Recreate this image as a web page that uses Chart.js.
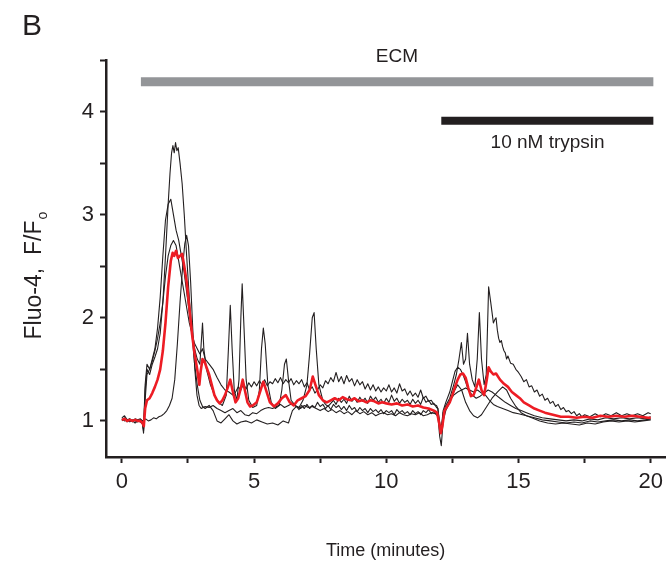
<!DOCTYPE html>
<html><head><meta charset="utf-8">
<script src="https://cdn.jsdelivr.net/npm/chart.js@4"></script>
<style>html,body{margin:0;padding:0;background:#fff}#wrap{width:669px;height:562px;position:relative}</style>
</head><body><div id="wrap"><canvas id="c" width="669" height="562"></canvas></div>
<script>
// ---- data (time in minutes, Fluo-4 F/Fo) ----
const xTicks = [0, 2.5, 5, 7.5, 10, 12.5, 15, 17.5, 20];
const xTickLabels = ["0", "", "5", "", "10", "", "15", "", "20"];
const yTicks = [1, 1.5, 2, 2.5, 3, 3.5, 4, 4.5];
const yTickLabels = ["1", "", "2", "", "3", "", "4", ""];
const ecmBar = [[0.72, 4.29], [20.1, 4.29]];
const trypsinBar = [[12.08, 3.91], [20.1, 3.91]];

const cell1 = [[0,1.03],[0.1,1.05],[0.2,1.01],[0.3,1.02],[0.4,1.0],[0.5,1.02],[0.6,1.01],[0.7,1.02],[0.78,1.0],[0.82,0.9],[0.88,1.3],[0.95,1.5],[1.05,1.45],[1.15,1.55],[1.25,1.62],[1.35,1.7],[1.45,1.85],[1.55,2.15],[1.65,2.6],[1.75,3.1],[1.82,3.4],[1.88,3.6],[1.93,3.67],[1.98,3.6],[2.03,3.7],[2.08,3.62],[2.13,3.65],[2.2,3.5],[2.28,3.3],[2.36,3.0],[2.45,2.6],[2.55,2.2],[2.65,1.85],[2.75,1.55],[2.85,1.35],[2.95,1.2],[3.05,1.14],[3.15,1.12],[3.3,1.15],[3.45,1.1],[3.6,1.0],[3.75,0.98],[3.9,1.02],[4.05,1.06],[4.2,1.0],[4.35,0.97],[4.5,0.99],[4.7,1.0],[4.9,0.98],[5.1,1.01],[5.3,0.99],[5.5,0.97],[5.7,0.98],[5.9,0.96],[6.1,1.0],[6.3,0.98],[6.45,1.1],[6.6,1.14],[6.7,1.11],[6.8,1.15],[6.9,1.12],[7.0,1.16],[7.1,1.12],[7.2,1.15],[7.3,1.13],[7.4,1.18],[7.5,1.14],[7.6,1.16],[7.7,1.12],[7.8,1.15],[7.9,1.11],[8.0,1.16],[8.1,1.13],[8.2,1.15],[8.3,1.11],[8.4,1.14],[8.5,1.1],[8.6,1.15],[8.7,1.11],[8.8,1.13],[8.9,1.09],[9.0,1.13],[9.1,1.1],[9.2,1.12],[9.3,1.08],[9.4,1.12],[9.5,1.09],[9.6,1.11],[9.7,1.08],[9.8,1.11],[9.9,1.07],[10.0,1.1],[10.1,1.08],[10.2,1.1],[10.3,1.06],[10.4,1.11],[10.5,1.08],[10.6,1.1],[10.7,1.07],[10.8,1.09],[10.9,1.06],[11.0,1.1],[11.1,1.07],[11.2,1.09],[11.3,1.06],[11.4,1.1],[11.5,1.08],[11.6,1.11],[11.7,1.07],[11.8,1.09],[11.9,1.06],[11.95,1.05],[12.02,0.85],[12.08,0.76],[12.15,1.0],[12.25,1.1],[12.4,1.18],[12.55,1.28],[12.7,1.35],[12.85,1.3],[13.0,1.18],[13.15,1.1],[13.3,1.05],[13.45,1.03],[13.6,1.06],[13.8,1.14],[14.0,1.22],[14.2,1.28],[14.4,1.33],[14.55,1.3],[14.7,1.22],[14.9,1.14],[15.1,1.08],[15.3,1.05],[15.5,1.03],[15.8,1.0],[16.1,0.98],[16.4,0.97],[16.7,0.98],[17.0,0.97],[17.3,0.96],[17.6,0.98],[17.9,0.97],[18.2,0.99],[18.5,1.0],[18.8,0.99],[19.1,1.0],[19.4,0.99],[19.7,1.0],[20.0,1.01]];

const cell2 = [[0,1.01],[0.1,1.03],[0.2,1.0],[0.3,1.02],[0.4,0.99],[0.5,1.01],[0.6,1.0],[0.7,1.01],[0.78,0.98],[0.82,0.92],[0.88,1.35],[0.95,1.55],[1.05,1.5],[1.15,1.6],[1.25,1.7],[1.35,1.9],[1.45,2.2],[1.55,2.6],[1.65,2.95],[1.75,3.1],[1.85,3.15],[1.95,3.0],[2.05,2.85],[2.15,2.75],[2.25,2.6],[2.35,2.45],[2.45,2.25],[2.55,2.05],[2.65,1.85],[2.75,1.7],[2.85,1.6],[2.95,1.55],[3.0,1.75],[3.05,1.95],[3.1,1.7],[3.2,1.5],[3.35,1.35],[3.5,1.25],[3.65,1.18],[3.8,1.15],[3.95,1.25],[4.03,1.7],[4.1,2.12],[4.17,1.7],[4.25,1.3],[4.35,1.2],[4.43,1.4],[4.5,2.0],[4.55,2.33],[4.62,1.9],[4.7,1.4],[4.8,1.2],[4.95,1.13],[5.1,1.15],[5.2,1.3],[5.28,1.7],[5.35,1.9],[5.42,1.75],[5.52,1.35],[5.65,1.18],[5.8,1.12],[5.95,1.15],[6.05,1.3],[6.15,1.55],[6.22,1.6],[6.3,1.4],[6.4,1.2],[6.55,1.15],[6.7,1.13],[6.85,1.2],[7.0,1.35],[7.1,1.65],[7.2,2.0],[7.27,2.05],[7.35,1.7],[7.45,1.35],[7.6,1.2],[7.7,1.16],[7.8,1.14],[7.9,1.17],[8.0,1.2],[8.1,1.16],[8.2,1.22],[8.3,1.18],[8.4,1.21],[8.5,1.17],[8.6,1.24],[8.7,1.19],[8.8,1.22],[8.9,1.18],[9.0,1.23],[9.1,1.19],[9.2,1.22],[9.3,1.17],[9.4,1.24],[9.5,1.2],[9.6,1.23],[9.7,1.18],[9.8,1.21],[9.9,1.17],[10.0,1.22],[10.1,1.18],[10.2,1.25],[10.3,1.19],[10.4,1.22],[10.5,1.17],[10.6,1.21],[10.7,1.18],[10.8,1.2],[10.9,1.16],[11.0,1.21],[11.1,1.17],[11.2,1.2],[11.3,1.16],[11.4,1.23],[11.5,1.18],[11.6,1.2],[11.7,1.16],[11.8,1.17],[11.9,1.13],[11.95,1.12],[12.02,0.95],[12.08,0.9],[12.15,1.08],[12.25,1.15],[12.4,1.22],[12.55,1.35],[12.65,1.45],[12.75,1.6],[12.84,1.76],[12.92,1.55],[13.0,1.6],[13.07,1.85],[13.15,1.55],[13.25,1.4],[13.35,1.33],[13.44,1.6],[13.52,2.05],[13.6,1.6],[13.7,1.35],[13.78,1.45],[13.87,2.3],[13.95,2.15],[14.0,2.05],[14.05,1.95],[14.1,1.98],[14.15,2.0],[14.2,1.88],[14.25,1.8],[14.3,1.76],[14.35,1.78],[14.4,1.72],[14.45,1.68],[14.5,1.66],[14.55,1.6],[14.6,1.63],[14.7,1.56],[14.8,1.55],[14.9,1.5],[15.0,1.47],[15.1,1.43],[15.2,1.38],[15.3,1.4],[15.4,1.33],[15.5,1.34],[15.6,1.28],[15.7,1.3],[15.8,1.24],[15.9,1.26],[16.0,1.2],[16.1,1.22],[16.2,1.17],[16.3,1.19],[16.4,1.14],[16.5,1.16],[16.6,1.11],[16.7,1.13],[16.8,1.09],[16.9,1.1],[17.0,1.07],[17.1,1.09],[17.2,1.05],[17.3,1.07],[17.4,1.04],[17.5,1.06],[17.7,1.04],[17.9,1.07],[18.1,1.04],[18.3,1.07],[18.5,1.05],[18.7,1.08],[18.9,1.05],[19.1,1.07],[19.3,1.05],[19.5,1.07],[19.7,1.05],[19.9,1.08],[20.0,1.07]];

const cell3 = [[0,1.0],[0.1,1.02],[0.2,0.99],[0.3,1.01],[0.4,1.0],[0.5,0.98],[0.6,1.0],[0.7,0.99],[0.78,0.97],[0.82,0.88],[0.88,1.2],[0.95,1.45],[1.05,1.5],[1.15,1.58],[1.25,1.68],[1.35,1.8],[1.45,1.95],[1.55,2.15],[1.65,2.4],[1.75,2.6],[1.85,2.7],[1.95,2.75],[2.05,2.7],[2.15,2.55],[2.25,2.4],[2.35,2.25],[2.45,2.1],[2.55,1.95],[2.65,1.85],[2.75,1.75],[2.85,1.7],[2.95,1.65],[3.05,1.7],[3.15,1.6],[3.3,1.55],[3.45,1.5],[3.6,1.42],[3.75,1.35],[3.9,1.3],[4.05,1.28],[4.2,1.25],[4.3,1.28],[4.4,1.33],[4.5,1.3],[4.6,1.36],[4.7,1.31],[4.8,1.37],[4.9,1.33],[5.0,1.38],[5.1,1.34],[5.2,1.39],[5.3,1.35],[5.4,1.4],[5.5,1.34],[5.6,1.38],[5.7,1.36],[5.8,1.41],[5.9,1.37],[6.0,1.42],[6.1,1.36],[6.2,1.4],[6.3,1.37],[6.4,1.41],[6.5,1.35],[6.6,1.39],[6.7,1.36],[6.8,1.4],[6.9,1.33],[7.0,1.37],[7.1,1.3],[7.2,1.33],[7.3,1.27],[7.4,1.3],[7.5,1.35],[7.6,1.32],[7.7,1.39],[7.8,1.36],[7.9,1.42],[8.0,1.38],[8.1,1.47],[8.2,1.38],[8.3,1.43],[8.4,1.36],[8.5,1.44],[8.6,1.38],[8.7,1.41],[8.8,1.34],[8.9,1.4],[9.0,1.35],[9.1,1.38],[9.2,1.31],[9.3,1.36],[9.4,1.3],[9.5,1.35],[9.6,1.29],[9.7,1.33],[9.8,1.28],[9.9,1.32],[10.0,1.29],[10.1,1.35],[10.2,1.28],[10.3,1.32],[10.4,1.27],[10.5,1.36],[10.6,1.29],[10.7,1.31],[10.8,1.25],[10.9,1.29],[11.0,1.24],[11.1,1.27],[11.2,1.23],[11.3,1.3],[11.4,1.22],[11.5,1.24],[11.6,1.19],[11.7,1.2],[11.8,1.16],[11.9,1.15],[11.95,1.12],[12.02,0.98],[12.08,0.92],[12.15,1.1],[12.25,1.18],[12.4,1.28],[12.5,1.38],[12.6,1.48],[12.7,1.52],[12.8,1.5],[12.9,1.45],[13.0,1.38],[13.1,1.3],[13.25,1.25],[13.4,1.22],[13.55,1.24],[13.7,1.27],[13.85,1.3],[14.0,1.28],[14.15,1.25],[14.3,1.22],[14.5,1.18],[14.7,1.15],[14.9,1.12],[15.1,1.1],[15.3,1.08],[15.6,1.05],[15.9,1.03],[16.2,1.02],[16.5,1.01],[16.8,1.0],[17.1,1.01],[17.4,1.0],[17.7,1.02],[18.0,1.01],[18.3,1.03],[18.6,1.02],[18.9,1.03],[19.2,1.02],[19.5,1.03],[19.8,1.02],[20.0,1.04]];

const cell4 = [[0,1.02],[0.1,1.0],[0.2,1.01],[0.3,0.99],[0.4,1.01],[0.5,1.0],[0.6,0.99],[0.7,1.01],[0.8,1.0],[0.9,1.02],[1.0,1.0],[1.1,1.01],[1.2,1.03],[1.3,1.02],[1.4,1.04],[1.5,1.05],[1.6,1.07],[1.7,1.1],[1.8,1.15],[1.9,1.22],[2.0,1.4],[2.1,1.75],[2.2,2.15],[2.3,2.5],[2.38,2.72],[2.45,2.8],[2.52,2.7],[2.6,2.35],[2.68,1.9],[2.76,1.5],[2.84,1.25],[2.92,1.15],[3.0,1.12],[3.15,1.14],[3.3,1.13],[3.45,1.15],[3.6,1.12],[3.75,1.1],[3.9,1.08],[4.05,1.1],[4.2,1.12],[4.35,1.08],[4.5,1.1],[4.65,1.06],[4.8,1.05],[4.95,1.08],[5.1,1.07],[5.25,1.1],[5.4,1.12],[5.55,1.13],[5.7,1.12],[5.85,1.14],[6.0,1.16],[6.15,1.13],[6.3,1.15],[6.45,1.17],[6.6,1.14],[6.75,1.12],[6.9,1.15],[7.05,1.13],[7.2,1.14],[7.35,1.12],[7.5,1.1],[7.65,1.12],[7.8,1.09],[7.95,1.11],[8.1,1.08],[8.25,1.1],[8.4,1.07],[8.55,1.09],[8.7,1.06],[8.85,1.1],[9.0,1.07],[9.15,1.09],[9.3,1.06],[9.45,1.08],[9.6,1.05],[9.75,1.07],[9.9,1.08],[10.05,1.06],[10.2,1.07],[10.35,1.05],[10.5,1.08],[10.65,1.06],[10.8,1.05],[10.95,1.07],[11.1,1.06],[11.25,1.08],[11.4,1.05],[11.55,1.06],[11.7,1.08],[11.85,1.07],[11.95,1.05],[12.02,0.95],[12.08,0.9],[12.15,1.05],[12.25,1.12],[12.4,1.2],[12.55,1.25],[12.7,1.28],[12.85,1.3],[13.0,1.32],[13.15,1.3],[13.3,1.28],[13.45,1.3],[13.6,1.27],[13.75,1.25],[13.9,1.2],[14.05,1.16],[14.2,1.14],[14.4,1.12],[14.6,1.1],[14.8,1.08],[15.0,1.07],[15.3,1.05],[15.6,1.03],[15.9,1.01],[16.2,1.0],[16.5,0.99],[16.8,0.98],[17.1,0.99],[17.4,0.98],[17.7,1.0],[18.0,0.99],[18.3,1.0],[18.6,1.01],[18.9,1.0],[19.2,1.01],[19.5,1.0],[19.8,1.01],[20.0,1.02]];

const meanTrace = [[0,1.01],[0.1,1.02],[0.2,1.0],[0.3,1.01],[0.4,1.0],[0.5,1.01],[0.6,1.0],[0.7,1.0],[0.78,0.98],[0.83,0.95],[0.88,1.12],[0.95,1.2],[1.05,1.22],[1.15,1.27],[1.25,1.33],[1.35,1.4],[1.45,1.5],[1.55,1.68],[1.65,1.95],[1.75,2.3],[1.85,2.55],[1.92,2.63],[1.98,2.6],[2.05,2.65],[2.12,2.58],[2.2,2.6],[2.28,2.62],[2.36,2.5],[2.45,2.35],[2.55,2.1],[2.65,1.85],[2.75,1.65],[2.85,1.5],[2.93,1.35],[2.98,1.48],[3.05,1.6],[3.12,1.58],[3.2,1.52],[3.3,1.45],[3.4,1.35],[3.5,1.25],[3.6,1.2],[3.7,1.17],[3.8,1.2],[3.9,1.25],[4.0,1.32],[4.1,1.4],[4.2,1.28],[4.3,1.18],[4.4,1.22],[4.5,1.32],[4.57,1.4],[4.65,1.3],[4.75,1.18],[4.85,1.14],[4.95,1.15],[5.1,1.18],[5.25,1.3],[5.35,1.38],[5.45,1.3],[5.6,1.18],[5.75,1.14],[5.9,1.17],[6.05,1.22],[6.2,1.25],[6.35,1.18],[6.5,1.15],[6.65,1.2],[6.8,1.22],[6.95,1.24],[7.1,1.3],[7.22,1.43],[7.32,1.35],[7.45,1.25],[7.6,1.2],[7.75,1.18],[7.9,1.2],[8.05,1.22],[8.2,1.2],[8.35,1.23],[8.5,1.21],[8.65,1.2],[8.8,1.22],[8.95,1.19],[9.1,1.2],[9.25,1.18],[9.4,1.2],[9.55,1.19],[9.7,1.17],[9.85,1.18],[10.0,1.17],[10.2,1.16],[10.4,1.17],[10.6,1.15],[10.8,1.16],[11.0,1.14],[11.2,1.15],[11.4,1.13],[11.6,1.12],[11.8,1.1],[11.92,1.08],[12.0,0.98],[12.06,0.88],[12.12,0.95],[12.2,1.1],[12.3,1.14],[12.4,1.18],[12.5,1.25],[12.6,1.33],[12.7,1.4],[12.8,1.45],[12.9,1.46],[13.0,1.42],[13.1,1.32],[13.2,1.24],[13.3,1.25],[13.4,1.32],[13.5,1.4],[13.6,1.3],[13.7,1.25],[13.8,1.4],[13.87,1.52],[13.95,1.48],[14.05,1.45],[14.15,1.46],[14.3,1.4],[14.45,1.36],[14.6,1.33],[14.75,1.28],[14.9,1.25],[15.05,1.22],[15.2,1.18],[15.4,1.15],[15.6,1.12],[15.8,1.1],[16.0,1.08],[16.3,1.06],[16.6,1.04],[16.9,1.04],[17.2,1.03],[17.5,1.04],[17.8,1.03],[18.1,1.05],[18.4,1.04],[18.7,1.05],[19.0,1.04],[19.3,1.05],[19.6,1.04],[19.9,1.03],[20.0,1.03]];

// ---- chart ----
const INK = '#231f20';
const FONT = '"Liberation Sans", Arial, sans-serif';
const toXY = arr => arr.map(([x, y]) => ({x, y}));
const traceStyle = (data, color, width, order) => ({
  data: toXY(data), borderColor: color, borderWidth: width, pointRadius: 0,
  tension: 0, fill: false, order, borderCapStyle: 'butt', borderJoinStyle: 'round'
});

const annotations = {
  id: 'annotations',
  afterDraw(chart) {
    const ctx = chart.ctx, xs = chart.scales.x;
    ctx.save();
    ctx.fillStyle = INK;
    ctx.textBaseline = 'alphabetic';
    ctx.textAlign = 'left';
    ctx.font = '30px ' + FONT;
    ctx.fillText('B', 22, 35);
    ctx.textAlign = 'center';
    ctx.font = '19px ' + FONT;
    ctx.fillText('ECM', xs.getPixelForValue(10.4), 62);
    ctx.fillText('10 nM trypsin', xs.getPixelForValue(16.1), 148);
    // y-axis title with subscript
    ctx.translate(41, 280);
    ctx.rotate(-Math.PI / 2);
    ctx.font = '23px ' + FONT;
    const main = 'Fluo-4,  F/F';
    const w = ctx.measureText(main).width;
    ctx.textAlign = 'left';
    ctx.fillText(main, -w / 2, 0);
    ctx.font = '14px ' + FONT;
    ctx.fillText('o', w / 2 + 1, 6);
    ctx.restore();
  }
};

new Chart(document.getElementById('c'), {
  type: 'line',
  data: {
    datasets: [
      traceStyle(meanTrace, '#ed1c24', 2.6, 0),
      traceStyle(cell1, INK, 1.1, 1),
      traceStyle(cell2, INK, 1.1, 1),
      traceStyle(cell3, INK, 1.1, 1),
      traceStyle(cell4, INK, 1.1, 1),
      traceStyle(ecmBar, '#939598', 9, 2),
      traceStyle(trypsinBar, INK, 8, 2)
    ]
  },
  options: {
    responsive: false,
    animation: false,
    events: [],
    layout: { padding: { left: 0, right: 2, top: 60, bottom: 0 } },
    plugins: { legend: { display: false }, tooltip: { enabled: false } },
    scales: {
      x: {
        type: 'linear', min: -0.6, max: 20.55,
        afterBuildTicks: s => { s.ticks = xTicks.map(v => ({value: v})); },
        afterFit: s => { s.height = 105; },
        ticks: {
          autoSkip: false, maxRotation: 0, padding: 6, color: INK,
          font: { family: FONT, size: 22 },
          callback: (v, i) => xTickLabels[i]
        },
        grid: { drawOnChartArea: false, drawTicks: true, tickLength: 6, tickWidth: 2, color: INK },
        border: { display: true, color: INK, width: 2.5 },
        title: { display: true, text: 'Time (minutes)', color: INK, font: { family: FONT, size: 18 }, padding: { top: 30, bottom: 0 } }
      },
      y: {
        type: 'linear', min: 0.65, max: 4.5,
        afterBuildTicks: s => { s.ticks = yTicks.map(v => ({value: v})); },
        afterFit: s => { s.width = 106; },
        ticks: {
          autoSkip: false, padding: 6, color: INK,
          font: { family: FONT, size: 22 },
          callback: (v, i) => yTickLabels[i]
        },
        grid: { drawOnChartArea: false, drawTicks: true, tickLength: 6, tickWidth: 2, color: INK },
        border: { display: true, color: INK, width: 2.5 }
      }
    }
  },
  plugins: [annotations]
});
</script></body></html>
